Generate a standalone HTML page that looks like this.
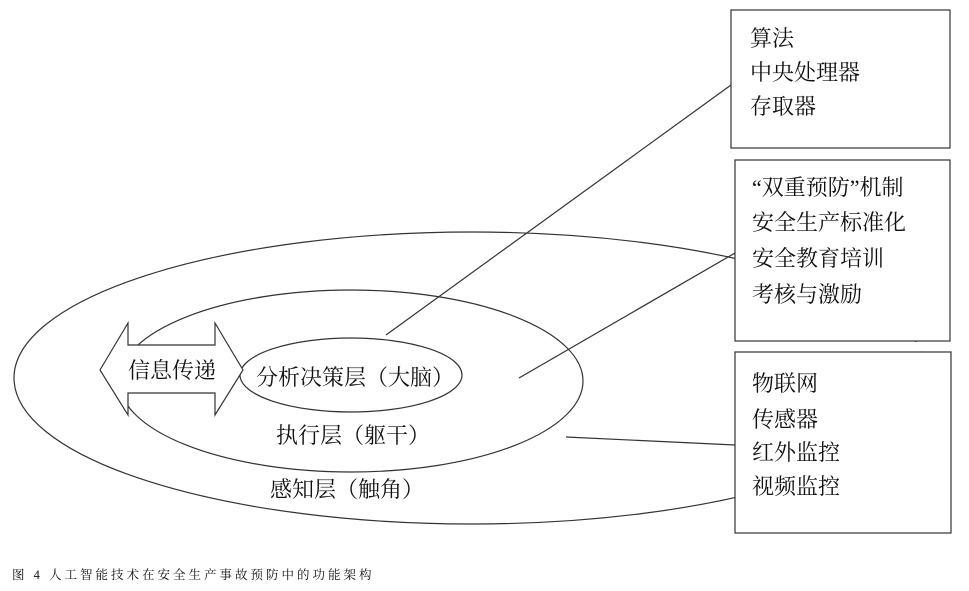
<!DOCTYPE html>
<html><head><meta charset="utf-8"><style>
body{margin:0;background:#fff;}
svg{display:block;}
text{font-family:"Liberation Serif","Noto Serif CJK SC",serif;fill:#111;}
</style></head><body>
<svg width="969" height="591" viewBox="0 0 969 591" xmlns="http://www.w3.org/2000/svg">
<g fill="none" stroke="#333" stroke-width="1.2">
<ellipse cx="472" cy="378" rx="458" ry="146"/>
<ellipse cx="351" cy="381" rx="232" ry="91"/>
<ellipse cx="351" cy="375" rx="111" ry="37" fill="#fff"/>
<polygon points="100,370 128,323 128,345 215,345 215,323 243,370 215,415 215,393 128,393 128,415" fill="#fff"/>
<line x1="386" y1="335" x2="731" y2="85"/>
<line x1="519" y1="378" x2="735" y2="253"/>
<line x1="566" y1="437" x2="735" y2="445"/>
</g>
<rect x="900" y="342" width="49" height="9.4" fill="#fff"/>
<g fill="#fff" stroke="#333" stroke-width="1.2">
<rect x="731" y="10" width="219" height="138"/>
<rect x="735" y="160" width="215" height="181"/>
<rect x="735" y="352" width="216" height="181"/>
</g>
<g font-size="22">
<text x="128" y="378">信息传递</text>
<text x="256" y="385">分析决策层（大脑）</text>
<text x="276" y="443">执行层（躯干）</text>
<text x="270" y="497">感知层（触角）</text>
<text x="750" y="46">算法</text>
<text x="750" y="80">中央处理器</text>
<text x="750" y="114">存取器</text>
<text x="752" y="195">“双重预防”机制</text>
<text x="752" y="230">安全生产标准化</text>
<text x="752" y="266">安全教育培训</text>
<text x="752" y="302">考核与激励</text>
<text x="752" y="391">物联网</text>
<text x="752" y="427">传感器</text>
<text x="752" y="460">红外监控</text>
<text x="752" y="494">视频监控</text>
</g>
<text x="12" y="579" font-size="12.5" letter-spacing="3">图 4 人工智能技术在安全生产事故预防中的功能架构</text>
</svg>
</body></html>
